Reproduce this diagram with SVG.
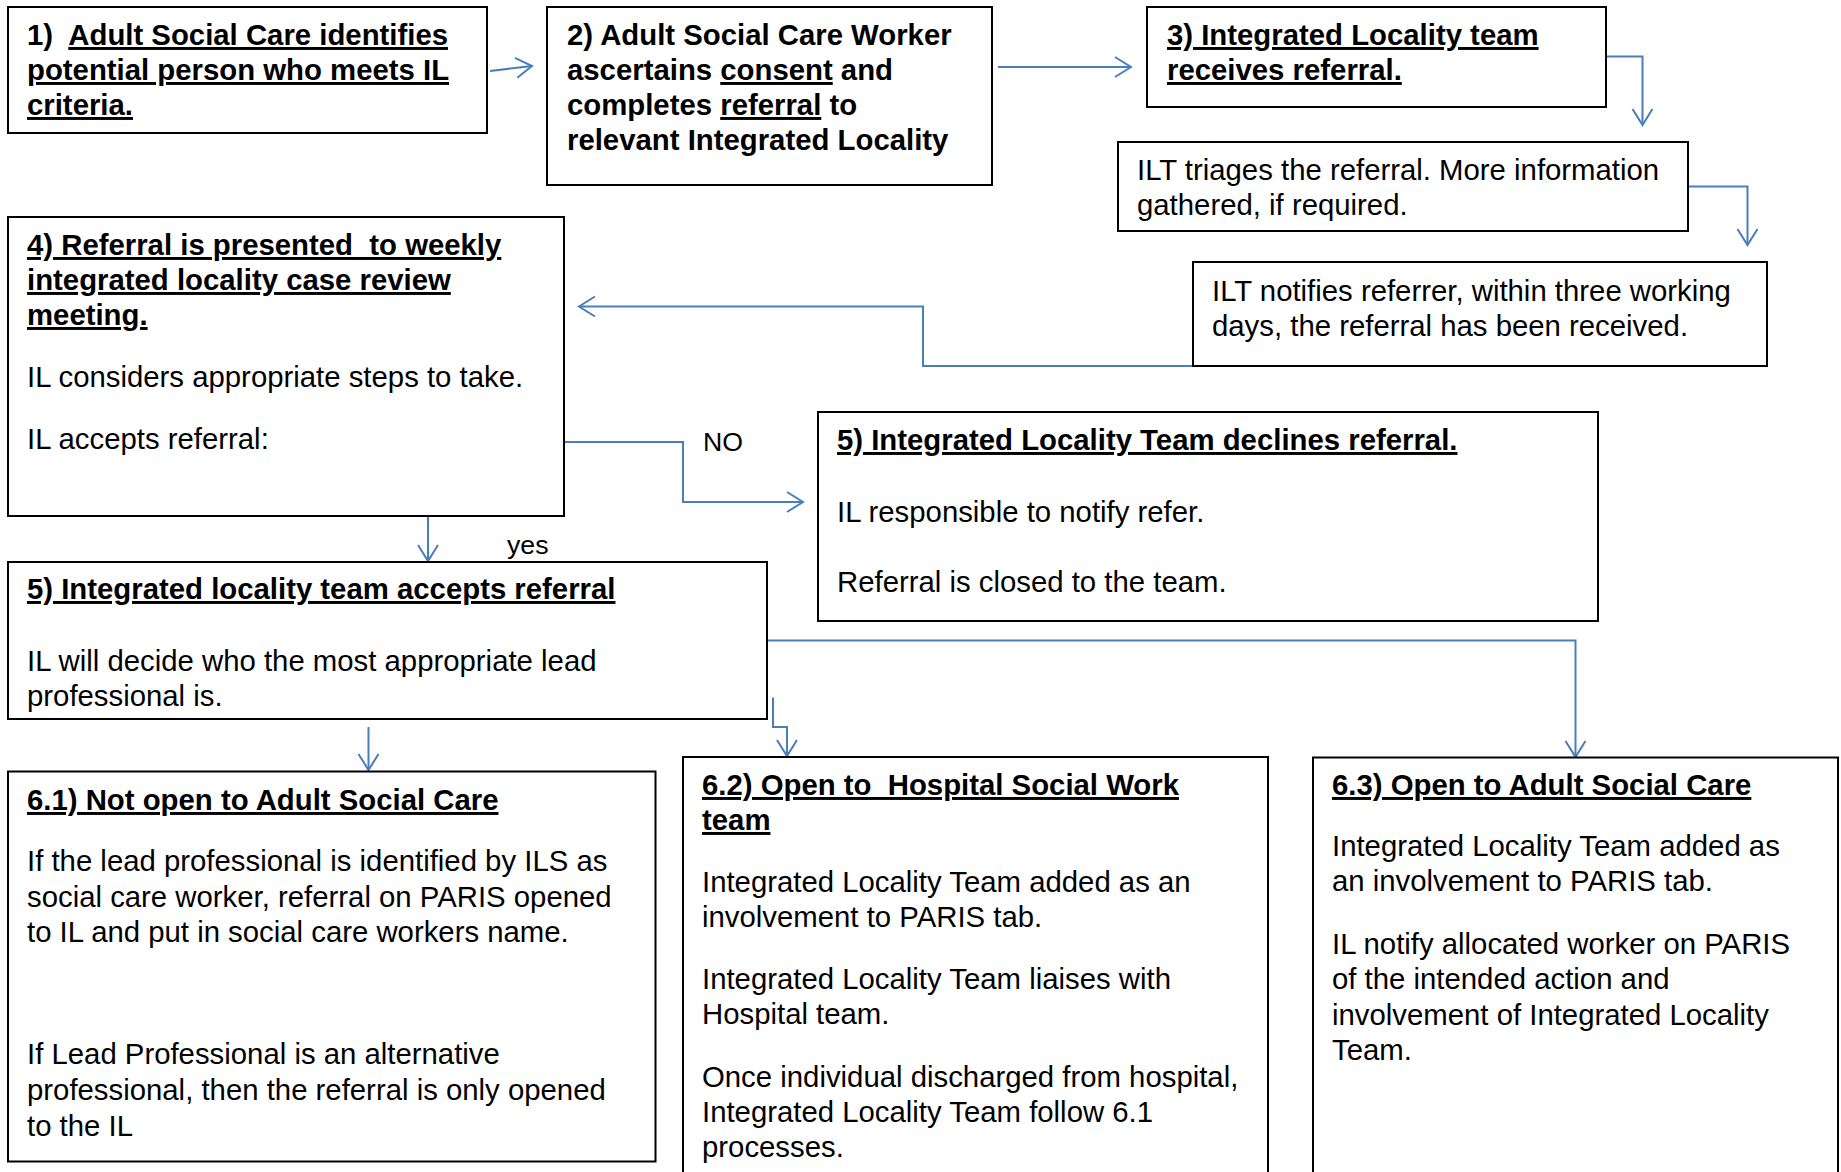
<svg xmlns="http://www.w3.org/2000/svg" width="1841" height="1172" viewBox="0 0 1841 1172">
<style>
.box{fill:#fff;stroke:#000;stroke-width:2}
.t{font-family:"Liberation Sans",Arial,sans-serif;font-size:29.33px;fill:#000;white-space:pre}
.b{font-weight:bold}
.u{text-decoration:underline}
.lbl{font-family:"Liberation Sans",Arial,sans-serif;font-size:26.7px;fill:#000}
.c{fill:none;stroke:#4A7EBB;stroke-width:2}
</style>
<defs>
<marker id="ah" markerUnits="userSpaceOnUse" markerWidth="40" markerHeight="40" viewBox="-20 -20 40 40" refX="0" refY="0" orient="auto">
<path d="M-16,-10 L0,0 L-16,10" fill="none" stroke="#4A7EBB" stroke-width="2"/>
</marker>
</defs>
<rect width="1841" height="1172" fill="#fff"/>

<g id="connectors">
<path class="c" d="M490,71 L532,66" marker-end="url(#ah)"/>
<path class="c" d="M998,67 L1131,67" marker-end="url(#ah)"/>
<path class="c" d="M1606,56.5 L1642.5,56.5 L1642.5,125" marker-end="url(#ah)"/>
<path class="c" d="M1688,186.5 L1747.5,186.5 L1747.5,245" marker-end="url(#ah)"/>
<path class="c" d="M1268,366 L923,366 L923,306.5 L579,306.5" marker-end="url(#ah)"/>
<path class="c" d="M565,442 L683,442 L683,502 L803,502" marker-end="url(#ah)"/>
<path class="c" d="M428,516 L428,561" marker-end="url(#ah)"/>
<path class="c" d="M368.5,727 L368.5,770" marker-end="url(#ah)"/>
<path class="c" d="M773,697.5 L773,727 L787,727 L787,756" marker-end="url(#ah)"/>
<path class="c" d="M767,640.5 L1575.5,640.5 L1575.5,757" marker-end="url(#ah)"/>
</g>

<g id="node1">
<rect class="box" x="8" y="7" width="479" height="126"/>
<text class="t b" x="27" y="45">1)  <tspan class="u">Adult Social Care identifies</tspan></text>
<text class="t b u" x="27" y="80">potential person who meets IL</text>
<text class="t b u" x="27" y="115">criteria.</text>
</g>

<g id="node2">
<rect class="box" x="547" y="7" width="445" height="178"/>
<text class="t b" x="567" y="45">2) Adult Social Care Worker</text>
<text class="t b" x="567" y="80">ascertains <tspan class="u">consent</tspan> and</text>
<text class="t b" x="567" y="115">completes <tspan class="u">referral</tspan> to</text>
<text class="t b" x="567" y="150">relevant Integrated Locality</text>
</g>

<g id="node3">
<rect class="box" x="1147" y="7" width="459" height="100"/>
<text class="t b u" x="1167" y="45">3) Integrated Locality team</text>
<text class="t b u" x="1167" y="80">receives referral.</text>
</g>

<g id="node-triage">
<rect class="box" x="1118" y="142" width="570" height="89"/>
<text class="t" x="1137" y="180">ILT triages the referral. More information</text>
<text class="t" x="1137" y="215">gathered, if required.</text>
</g>

<g id="node-notify">
<rect class="box" x="1193" y="262" width="574" height="104"/>
<text class="t" x="1212" y="300.5">ILT notifies referrer, within three working</text>
<text class="t" x="1212" y="335.5">days, the referral has been received.</text>
</g>

<g id="node4">
<rect class="box" x="8" y="217" width="556" height="299"/>
<text class="t b u" x="27" y="255">4) Referral is presented  to weekly</text>
<text class="t b u" x="27" y="290">integrated locality case review</text>
<text class="t b u" x="27" y="325">meeting.</text>
<text class="t" x="27" y="387">IL considers appropriate steps to take.</text>
<text class="t" x="27" y="449">IL accepts referral:</text>
</g>

<g id="labels">
<text class="lbl" x="703" y="451">NO</text>
<text class="lbl" x="507" y="554">yes</text>
</g>

<g id="node5-declines">
<rect class="box" x="818" y="412" width="780" height="209"/>
<text class="t b u" x="837" y="450">5) Integrated Locality Team declines referral.</text>
<text class="t" x="837" y="521.5">IL responsible to notify refer.</text>
<text class="t" x="837" y="591.5">Referral is closed to the team.</text>
</g>

<g id="node5-accepts">
<rect class="box" x="8" y="562" width="759" height="157"/>
<text class="t b u" x="27" y="599">5) Integrated locality team accepts referral</text>
<text class="t" x="27" y="671">IL will decide who the most appropriate lead</text>
<text class="t" x="27" y="706">professional is.</text>
</g>

<g id="node6-1">
<rect class="box" x="8" y="771.5" width="647.5" height="390"/>
<text class="t b u" x="27" y="810">6.1) Not open to Adult Social Care</text>
<text class="t" x="27" y="871">If the lead professional is identified by ILS as</text>
<text class="t" x="27" y="906.5">social care worker, referral on PARIS opened</text>
<text class="t" x="27" y="942">to IL and put in social care workers name.</text>
<text class="t" x="27" y="1064">If Lead Professional is an alternative</text>
<text class="t" x="27" y="1100">professional, then the referral is only opened</text>
<text class="t" x="27" y="1136">to the IL</text>
</g>

<g id="node6-2">
<rect class="box" x="683" y="757" width="585" height="430"/>
<text class="t b u" x="702" y="795">6.2) Open to  Hospital Social Work</text>
<text class="t b u" x="702" y="830">team</text>
<text class="t" x="702" y="892">Integrated Locality Team added as an</text>
<text class="t" x="702" y="927">involvement to PARIS tab.</text>
<text class="t" x="702" y="989">Integrated Locality Team liaises with</text>
<text class="t" x="702" y="1024">Hospital team.</text>
<text class="t" x="702" y="1087">Once individual discharged from hospital,</text>
<text class="t" x="702" y="1122">Integrated Locality Team follow 6.1</text>
<text class="t" x="702" y="1157">processes.</text>
</g>

<g id="node6-3">
<rect class="box" x="1313" y="757.5" width="525" height="430"/>
<text class="t b u" x="1332" y="795">6.3) Open to Adult Social Care</text>
<text class="t" x="1332" y="856">Integrated Locality Team added as</text>
<text class="t" x="1332" y="891">an involvement to PARIS tab.</text>
<text class="t" x="1332" y="954">IL notify allocated worker on PARIS</text>
<text class="t" x="1332" y="989">of the intended action and</text>
<text class="t" x="1332" y="1025">involvement of Integrated Locality</text>
<text class="t" x="1332" y="1060">Team.</text>
</g>
</svg>
